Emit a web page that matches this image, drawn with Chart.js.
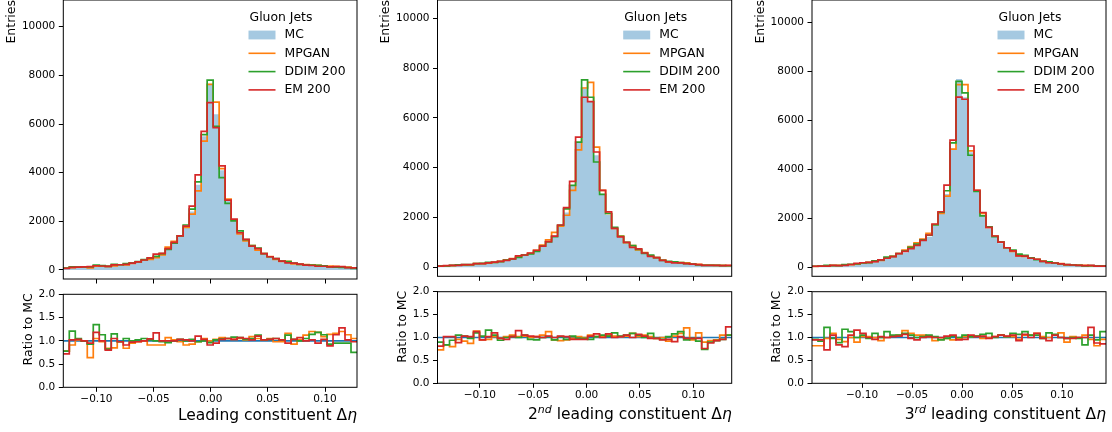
<!DOCTYPE html>
<html>
<head>
<meta charset="utf-8">
<script src="https://cdn.jsdelivr.net/npm/chart.js@4.4.1/dist/chart.umd.min.js"></script>
<style>
  html, body { margin: 0; padding: 0; background: #fff; }
  body { width: 1112px; height: 432px; position: relative; overflow: hidden; }
  canvas { position: absolute; }
</style>
</head>
<body>
<script>
// 49 bins spanning each panel's x range
const BINS = 49;
const X_RANGES = [[-0.129, 0.128], [-0.1397, 0.136], [-0.150, 0.144]];
const X_TICKS = [-0.10, -0.05, 0.00, 0.05, 0.10];
const ENTRY_TICKS = [0, 2000, 4000, 6000, 8000, 10000];
const RATIO_TICKS = [0, 0.5, 1.0, 1.5, 2.0];
const SERIES = ["MC", "MPGAN", "DDIM 200", "EM 200"];
const LEGEND_TITLE = "Gluon Jets";

// entries per bin, leading constituent
const mcLead    = [95,105,115,125,140,150,165,180,200,220, 250,290,340,410,480,560,680,880,1130,1400, 1800,2400,3500,5500,7650,6400,4100,2850,2030,1550, 1220,960,800,660,530,450,360,310,270,230, 200,180,165,150,140,125,110,100,85];
const mpganLead = [75,95,115,125,90,155,160,150,170,215, 210,275,335,410,440,510,620,940,1180,1400, 1750,2300,3250,5300,7630,6900,4170,2910,2050,1480, 1200,1000,820,670,550,440,350,360,250,235, 225,215,195,165,160,145,130,115,90];
const ddimLead  = [75,125,120,125,130,200,185,150,230,215, 260,290,345,430,490,560,670,850,1100,1400, 1850,2500,3620,5560,7800,5900,3800,2735,2020,1610, 1250,1000,900,670,545,470,370,345,280,230, 210,205,195,170,130,120,105,95,65];
const emLead    = [70,105,120,125,135,175,165,145,210,215, 230,280,335,410,500,650,680,880,1135,1400, 1800,2625,3910,5700,6880,5850,4280,2870,2090,1530, 1260,980,880,670,545,470,365,295,280,245, 200,185,155,155,125,140,140,100,85];

// 2nd leading constituent
const mc2nd    = [60,70,80,90,100,110,130,150,170,190, 240,290,330,400,470,560,670,850,1000,1250, 1650,2200,3300,5000,7160,6650,4500,2950,2100,1540, 1200,960,800,690,560,450,400,290,230,200, 170,150,130,110,100,90,80,70,60];
const mpgan2nd = [45,60,65,85,90,95,150,145,165,195, 235,295,345,410,485,560,685,890,1100,1400, 1650,2090,3090,4720,7200,7430,4830,3090,2160,1560, 1250,990,870,700,590,460,390,290,220,205, 190,180,125,120,90,85,80,75,65];
const ddim2nd  = [55,60,75,95,105,110,145,155,195,200, 225,290,335,400,495,540,640,850,1020,1230, 1690,2350,3290,5030,7530,6830,4230,2930,2160,1600, 1240,1000,870,720,560,490,390,280,235,215, 190,145,125,100,75,80,75,65,63];
const em2nd    = [50,70,80,80,105,110,145,145,175,210, 235,280,335,460,495,575,685,850,1030,1250, 1700,2400,3450,5230,6830,6650,4630,3090,2230,1560, 1220,1000,800,740,575,440,390,275,220,180, 175,145,125,110,75,80,75,65,75];

// 3rd leading constituent
const mc3rd    = [45,55,60,70,80,95,110,140,170,200, 245,300,370,430,540,610,780,950,1100,1250, 1700,2200,3000,4850,7700,6950,4700,3100,2150,1600, 1250,980,780,640,500,430,370,300,245,200, 165,140,110,95,82,70,65,58,52];
const mpgan3rd = [37,45,60,75,75,85,110,125,175,205, 245,280,370,445,565,700,850,1000,1150,1390, 1750,2200,2910,4830,7470,7470,4760,3150,2200,1630, 1280,1030,800,650,480,450,390,330,250,200, 175,155,100,95,85,75,55,48,50];
const ddim3rd  = [43,50,75,70,70,110,125,140,180,195, 265,300,420,450,565,665,820,950,1120,1310, 1730,2250,3130,5090,7600,7130,4580,3100,2100,1650, 1250,1030,800,700,535,485,390,315,240,220, 175,140,108,95,80,60,68,55,58];
const em3rd    = [43,52,45,75,68,76,115,160,185,200, 235,305,370,440,555,650,765,900,1100,1320, 1770,2270,3360,5200,6960,6870,4960,3150,2240,1630, 1280,1030,800,670,465,460,370,330,240,185, 175,140,108,93,82,70,80,51,45];

// ratio to MC
const ratioMpganLead = [0.78,0.91,1.02,1.0,0.64,1.05,0.98,0.84,0.85,0.98, 0.84,0.95,0.98,1.0,0.91,0.91,0.91,1.07,1.02,0.98, 0.91,0.93,0.98,1.05,1.0,1.03,1.07,1.05,1.03,1.05, 1.02,1.09,1.05,1.02,1.05,0.98,0.98,1.16,0.93,1.02, 1.12,1.2,1.18,1.09,1.14,1.16,1.2,1.13,1.05];
const ratioDdimLead  = [0.78,1.21,1.05,0.99,0.93,1.35,1.13,0.82,1.15,0.98, 1.05,1.0,1.02,1.05,1.02,1.0,0.98,0.96,1.0,1.03, 1.0,1.03,0.98,1.0,0.96,1.02,1.04,1.05,1.08,1.07, 1.03,1.05,1.12,1.02,1.03,1.05,1.02,1.12,1.03,1.0, 1.05,1.14,1.18,1.13,0.93,0.95,0.95,0.95,0.75];
const ratioEmLead    = [0.72,1.02,1.03,1.0,0.95,1.18,1.0,0.8,1.05,0.98, 0.91,0.97,0.98,1.0,1.04,1.17,1.0,1.0,1.0,1.03, 1.02,1.0,1.1,1.03,0.91,0.95,1.03,1.05,1.03,1.07, 1.05,1.02,1.1,1.02,1.03,1.05,1.02,0.95,1.03,1.07, 1.0,1.02,0.95,1.03,0.89,1.13,1.28,1.02,0.98];

const ratioMpgan2nd = [0.73,0.84,0.8,0.96,0.92,0.87,1.14,0.95,0.96,1.02, 0.98,1.02,1.05,1.02,1.03,1.0,1.02,1.05,1.13,0.95, 0.93,0.95,0.98,1.02,1.0,1.05,1.02,1.03,1.05,1.03, 1.02,1.03,1.09,1.02,1.05,1.02,0.98,1.0,0.92,1.03, 1.09,1.21,0.95,1.1,0.9,0.93,0.95,1.05,1.05];
const ratioDdim2nd  = [0.9,0.84,0.94,1.05,1.03,0.98,1.1,1.03,1.16,1.05, 0.94,1.0,1.02,1.0,1.05,0.96,0.95,1.0,1.02,0.95, 1.02,0.96,1.03,0.98,0.98,0.96,1.02,1.05,1.03,1.1, 1.03,1.05,1.09,1.05,1.0,1.09,0.98,0.96,1.02,1.08, 1.13,0.95,0.98,0.92,0.74,0.9,0.93,0.96,1.05];
const ratioEm2nd    = [0.81,1.02,1.02,0.89,1.03,1.02,1.13,0.95,1.02,1.1, 0.98,0.96,1.02,1.15,1.05,1.03,1.02,1.0,1.03,1.0, 1.03,1.02,0.96,0.96,0.96,1.03,1.08,1.0,1.08,1.0, 1.02,1.05,1.0,1.07,1.03,0.98,0.98,0.95,0.96,0.91, 1.02,0.98,0.98,0.98,0.76,0.88,0.93,0.96,1.23];

const ratioMpgan3rd = [0.82,0.82,0.98,1.09,0.96,0.91,1.0,0.9,1.02,1.02, 1.0,0.93,1.0,1.03,1.05,1.15,1.09,1.05,1.05,1.02, 0.93,0.96,0.98,0.95,0.98,1.02,1.02,1.03,0.98,1.0, 1.02,1.05,1.02,1.02,0.96,1.05,1.05,1.09,1.02,1.0, 1.05,1.1,0.9,1.02,1.0,1.05,0.96,0.82,0.96];
const ratioDdim3rd  = [0.96,0.92,1.22,0.98,0.89,1.18,1.13,1.0,1.05,0.98, 1.09,1.0,1.13,1.05,1.05,1.09,1.05,1.0,1.02,1.05, 1.02,0.95,0.98,1.03,1.0,1.05,1.02,1.03,1.07,1.09, 1.0,1.05,1.02,1.09,1.07,1.13,1.05,1.05,0.98,1.1, 1.07,1.0,0.98,1.0,0.98,0.84,1.05,0.95,1.13];
const ratioEm3rd    = [0.95,0.95,0.73,1.05,0.84,0.8,1.05,1.16,1.09,1.0, 0.96,1.02,1.0,1.02,1.03,1.07,0.98,0.95,1.0,1.02, 1.0,1.0,1.03,1.05,0.95,0.96,1.05,1.02,1.03,0.98, 1.02,1.05,1.03,1.05,0.93,1.07,1.0,1.09,0.98,0.93, 1.05,1.0,0.98,0.98,1.0,1.0,1.22,0.88,0.86];

const ENTRIES = [
  [mcLead, mpganLead, ddimLead, emLead],
  [mc2nd, mpgan2nd, ddim2nd, em2nd],
  [mc3rd, mpgan3rd, ddim3rd, em3rd],
];
const RATIOS = [
  [ratioMpganLead, ratioDdimLead, ratioEmLead],
  [ratioMpgan2nd, ratioDdim2nd, ratioEm2nd],
  [ratioMpgan3rd, ratioDdim3rd, ratioEm3rd],
];
const ENTRY_LIMITS = [[-370, 11097], [-361, 10735], [-368, 10928]];

const FAM = '"DejaVu Sans", sans-serif';
const C_MC = "#1f77b4";
const C_MC_FILL = "rgba(31, 119, 180, 0.4)";
const C_LINES = ["#ff7f0e", "#2ca02c", "#d62728"];

// x-axis titles, as [text, style] pieces
const X_TITLES = [
  [["Leading constituent \u0394", ""], ["\u03b7", "italic"]],
  [["2", ""], ["nd", "sup"], [" leading constituent \u0394", ""], ["\u03b7", "italic"]],
  [["3", ""], ["rd", "sup"], [" leading constituent \u0394", ""], ["\u03b7", "italic"]],
];

// placement of each panel (px, page coordinates)
const PANELS = [
  { x0: 0,   left: 63.3,  right: 357,   topBottom: 279,   rTop: 294.3, rBottom: 387.3, labelBase: 420 },
  { x0: 370, left: 437.5, right: 731.7, topBottom: 276.3, rTop: 291.7, rBottom: 383.3, labelBase: 418.5 },
  { x0: 742, left: 812,   right: 1106,  topBottom: 276.3, rTop: 291.7, rBottom: 383.3, labelBase: 418.5 },
];
const COL_W = 370;
// canvases start above their plot area so the tick-label padding never moves it
const TOP_CANVAS_Y = -20;
const RATIO_CANVAS_Y = 268;

Chart.defaults.font.family = FAM;
Chart.defaults.color = "#000";

function addCanvas(left, top, w, h) {
  const c = document.createElement("canvas");
  c.width = w;
  c.height = h;
  c.style.left = left + "px";
  c.style.top = top + "px";
  c.style.width = w + "px";
  c.style.height = h + "px";
  document.body.appendChild(c);
  return c;
}

function binEdges(k) {
  const [lo, hi] = X_RANGES[k];
  const out = [];
  for (let i = 0; i <= BINS; i++) out.push(lo + (i * (hi - lo)) / BINS);
  return out;
}

function steps(edges, counts) {
  const pts = counts.map((c, i) => ({ x: edges[i], y: c }));
  pts.push({ x: edges[edges.length - 1], y: counts[counts.length - 1] });
  return pts;
}

function fixedTicks(values) {
  return (s) => { s.ticks = values.map((v) => ({ value: v })); };
}

const gridTicks = { drawOnChartArea: false, drawTicks: true, tickLength: 4.5, color: "#000", lineWidth: 1 };
const tickFont = { size: 10.5, family: FAM };

function xScale(k, withLabels, height) {
  return {
    type: "linear",
    min: X_RANGES[k][0],
    max: X_RANGES[k][1],
    afterBuildTicks: fixedTicks(X_TICKS),
    afterFit: (s) => { s.height = height; },
    border: { display: false },
    grid: gridTicks,
    ticks: {
      display: withLabels,
      autoSkip: false,
      maxRotation: 0,
      padding: 1.5,
      color: "#000",
      font: tickFont,
      callback: (v) => (v < -1e-9 ? "\u2212" : "") + Math.abs(v).toFixed(2),
    },
  };
}

function yScale(p, min, max, tickValues, fmt) {
  return {
    type: "linear",
    min, max,
    afterBuildTicks: fixedTicks(tickValues),
    afterFit: (s) => { s.width = p.left - p.x0; },
    border: { display: false },
    grid: gridTicks,
    ticks: { autoSkip: false, padding: 3.5, color: "#000", font: tickFont, callback: fmt },
  };
}

function drawFrame(ctx, a) {
  ctx.save();
  ctx.strokeStyle = "#000";
  ctx.lineWidth = 1;
  ctx.strokeRect(a.left, a.top, a.right - a.left, a.bottom - a.top);
  ctx.restore();
}

function drawYTitle(ctx, text, x, yTop) {
  ctx.save();
  ctx.fillStyle = "#000";
  ctx.font = "12.5px " + FAM;
  ctx.translate(x, yTop);
  ctx.rotate(-Math.PI / 2);
  ctx.textAlign = "right";
  ctx.textBaseline = "middle";
  ctx.fillText(text, 0, 0);
  ctx.restore();
}

function drawXTitle(ctx, pieces, right, base) {
  ctx.save();
  ctx.fillStyle = "#000";
  ctx.textBaseline = "alphabetic";
  const fontOf = (st) =>
    st === "sup" ? "italic 11px " + FAM : (st === "italic" ? "italic " : "") + "15.5px " + FAM;
  let total = 0;
  pieces.forEach(([t, st]) => { ctx.font = fontOf(st); total += ctx.measureText(t).width; });
  let x = right - total;
  pieces.forEach(([t, st]) => {
    ctx.font = fontOf(st);
    ctx.fillText(t, x, base + (st === "sup" ? -5.5 : 0));
    x += ctx.measureText(t).width;
  });
  ctx.restore();
}

function drawLegend(ctx, a) {
  const R = a.right, T = a.top;
  ctx.save();
  ctx.fillStyle = "#000";
  ctx.font = "12.4px " + FAM;
  ctx.textBaseline = "middle";
  ctx.textAlign = "center";
  ctx.fillText(LEGEND_TITLE, R - 76, T + 17.3);
  ctx.textAlign = "left";
  SERIES.forEach((name, j) => {
    const y = T + 35 + 18.3 * j;
    if (j === 0) {
      ctx.fillStyle = C_MC_FILL;
      ctx.fillRect(R - 108.5, y - 4.4, 27, 8.8);
    } else {
      ctx.strokeStyle = C_LINES[j - 1];
      ctx.lineWidth = 1.6;
      ctx.beginPath();
      ctx.moveTo(R - 108.5, y);
      ctx.lineTo(R - 81.5, y);
      ctx.stroke();
    }
    ctx.fillStyle = "#000";
    ctx.fillText(name, R - 72.5, y);
  });
  ctx.restore();
}

function entriesChart(k) {
  const p = PANELS[k];
  const e = binEdges(k);
  const [mc, ...models] = ENTRIES[k];
  const h = 290 - TOP_CANVAS_Y;
  const canvas = addCanvas(p.x0, TOP_CANVAS_Y, COL_W, h);
  const datasets = [{
    label: SERIES[0],
    data: steps(e, mc),
    stepped: "before",
    fill: "origin",
    backgroundColor: C_MC_FILL,
    borderColor: "rgba(0,0,0,0)",
    borderWidth: 0,
    pointRadius: 0,
    order: 4,
  }];
  models.forEach((m, j) => datasets.push({
    label: SERIES[j + 1],
    data: steps(e, m),
    stepped: "before",
    fill: false,
    borderColor: C_LINES[j],
    borderWidth: 1.7,
    pointRadius: 0,
    order: 3 - j,
  }));
  new Chart(canvas, {
    type: "line",
    data: { datasets },
    options: {
      responsive: false,
      animation: false,
      events: [],
      layout: { padding: { left: 0, right: p.x0 + COL_W - p.right, top: -TOP_CANVAS_Y, bottom: 0 }, autoPadding: false },
      plugins: { legend: { display: false }, tooltip: { enabled: false } },
      scales: {
        x: xScale(k, false, 290 - p.topBottom),
        y: yScale(p, ENTRY_LIMITS[k][0], ENTRY_LIMITS[k][1], ENTRY_TICKS, (v) => String(v)),
      },
    },
    plugins: [{
      id: "decoTop",
      afterDraw(chart) {
        const a = chart.chartArea;
        drawFrame(chart.ctx, a);
        drawYTitle(chart.ctx, "Entries", a.left - 51.5, a.top);
        drawLegend(chart.ctx, a);
      },
    }],
  });
}

function ratioChart(k) {
  const p = PANELS[k];
  const e = binEdges(k);
  const top = RATIO_CANVAS_Y;
  const canvas = addCanvas(p.x0, top, COL_W, 432 - top);
  const datasets = [{
    label: SERIES[0],
    data: [{ x: e[0], y: 1 }, { x: e[BINS], y: 1 }],
    borderColor: C_MC,
    borderWidth: 1.7,
    pointRadius: 0,
    fill: false,
    order: 4,
  }];
  RATIOS[k].forEach((r, j) => datasets.push({
    label: SERIES[j + 1],
    data: steps(e, r),
    stepped: "before",
    fill: false,
    borderColor: C_LINES[j],
    borderWidth: 1.7,
    pointRadius: 0,
    order: 3 - j,
  }));
  new Chart(canvas, {
    type: "line",
    data: { datasets },
    options: {
      responsive: false,
      animation: false,
      events: [],
      layout: { padding: { left: 0, right: p.x0 + COL_W - p.right, top: p.rTop - top, bottom: 0 }, autoPadding: false },
      plugins: { legend: { display: false }, tooltip: { enabled: false } },
      scales: {
        x: xScale(k, true, 432 - p.rBottom),
        y: yScale(p, 0, 2, RATIO_TICKS, (v) => v.toFixed(1)),
      },
    },
    plugins: [{
      id: "decoRatio",
      afterDraw(chart) {
        const a = chart.chartArea;
        drawFrame(chart.ctx, a);
        drawYTitle(chart.ctx, "Ratio to MC", a.left - 35, a.top - 1);
        drawXTitle(chart.ctx, X_TITLES[k], a.right, p.labelBase - top);
      },
    }],
  });
}

[0, 1, 2].forEach((k) => { entriesChart(k); ratioChart(k); });
</script>
</body>
</html>
